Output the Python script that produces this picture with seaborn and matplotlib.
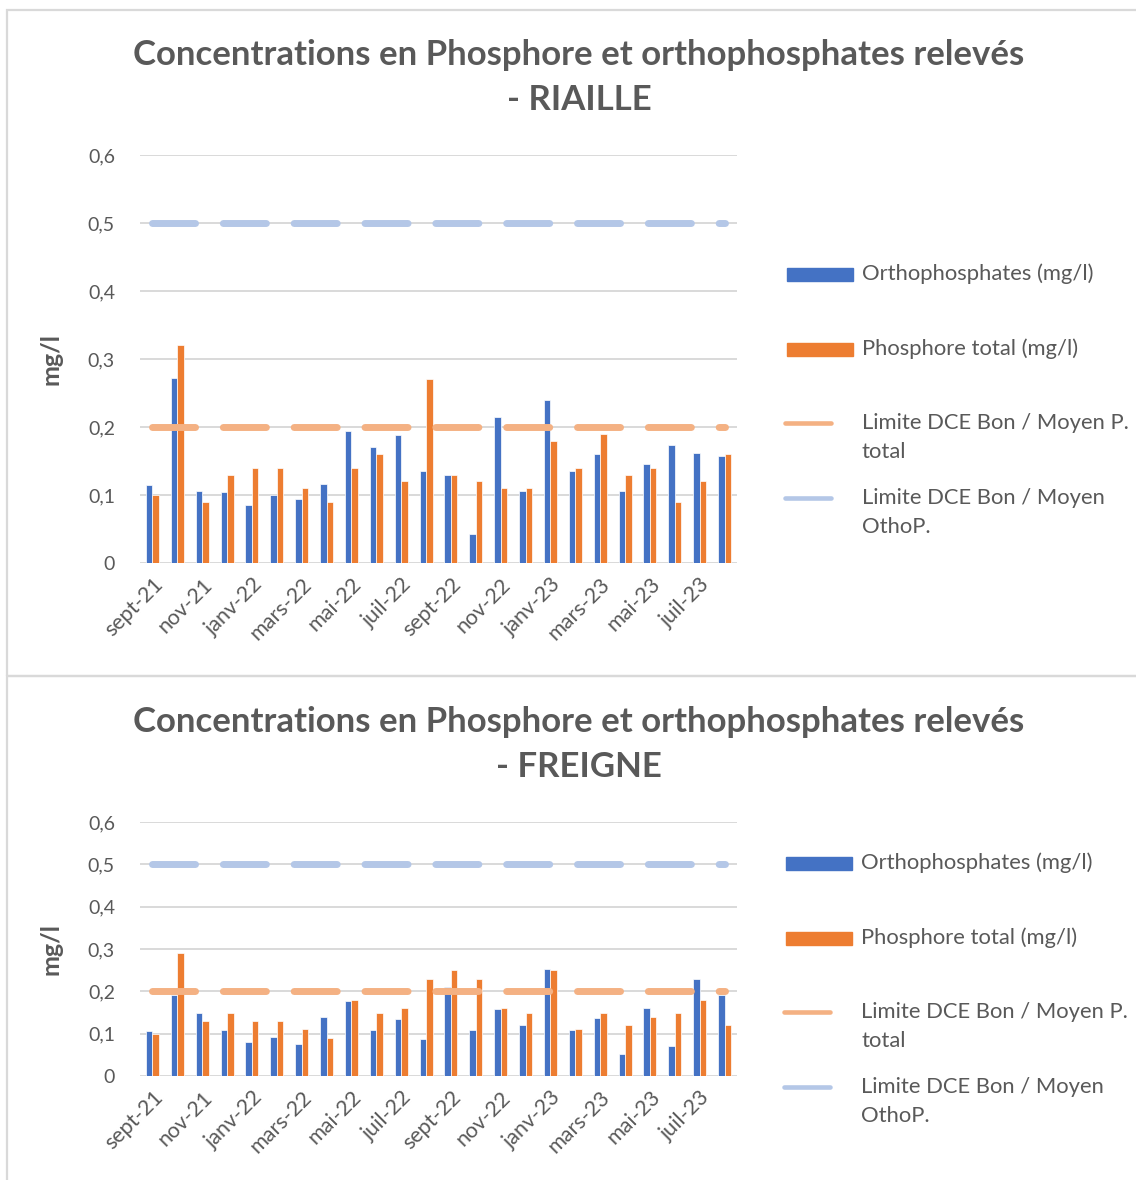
import numpy as np
import pandas as pd
import matplotlib
matplotlib.use("Agg")
import matplotlib.pyplot as plt
import seaborn as sns
from matplotlib.patches import Rectangle
from matplotlib.lines import Line2D

# Données (mg/l)
mois = ['sept-21', 'oct-21', 'nov-21', 'déc-21', 'janv-22', 'févr-22', 'mars-22', 'avr-22',
        'mai-22', 'juin-22', 'juil-22', 'août-22', 'sept-22', 'oct-22', 'nov-22', 'déc-22',
        'janv-23', 'févr-23', 'mars-23', 'avr-23', 'mai-23', 'juin-23', 'juil-23', 'août-23']

riaille_ortho = [0.115, 0.272, 0.106, 0.105, 0.086, 0.100, 0.094, 0.116, 0.194, 0.171, 0.188, 0.135,
                 0.129, 0.042, 0.215, 0.106, 0.240, 0.135, 0.160, 0.106, 0.146, 0.173, 0.162, 0.158]
riaille_ptot = [0.10, 0.32, 0.09, 0.13, 0.14, 0.14, 0.11, 0.09, 0.14, 0.16, 0.12, 0.27,
                0.13, 0.12, 0.11, 0.11, 0.18, 0.14, 0.19, 0.13, 0.14, 0.09, 0.12, 0.16]

freigne_ortho = [0.106, 0.192, 0.148, 0.109, 0.081, 0.091, 0.075, 0.139, 0.176, 0.109, 0.134, 0.087,
                 0.210, 0.109, 0.158, 0.120, 0.252, 0.109, 0.137, 0.051, 0.160, 0.072, 0.228, 0.192]
freigne_ptot = [0.10, 0.29, 0.13, 0.15, 0.13, 0.13, 0.11, 0.09, 0.18, 0.15, 0.16, 0.23,
                0.25, 0.23, 0.16, 0.15, 0.25, 0.11, 0.15, 0.12, 0.14, 0.15, 0.18, 0.12]

limite_ptot = 0.2
limite_ortho = 0.5

series = ['Orthophosphates (mg/l)', 'Phosphore total (mg/l)']
lab_lim_pt = 'Limite DCE Bon / Moyen P.\ntotal'
lab_lim_or = 'Limite DCE Bon / Moyen\nOthoP.'

BLEU = '#4472C4'
ORANGE = '#ED7D31'
ORANGE_CLAIR = '#F4B183'
BLEU_CLAIR = '#B4C7E7'
GRIS_TXT = '#595959'
GRIS_GRILLE = '#D9D9D9'

sns.set_theme(style="white")
plt.rcParams['font.family'] = ['Lato', 'DejaVu Sans']

W, H = 1136, 1180
fig = plt.figure(figsize=(W / 100, H / 100), dpi=100)


def fx(px):
    return px / W


def fy(py):
    return 1 - py / H


def tableau(ortho, ptot):
    return pd.DataFrame({
        'mois': mois * 2,
        'serie': [series[0]] * len(mois) + [series[1]] * len(mois),
        'valeur': list(ortho) + list(ptot),
    })


def panneau(y_haut, y_bas, ortho, ptot, station, y_titre, y_axes):
    # cadre du graphique
    fig.patches.append(Rectangle((fx(7), fy(y_bas)), fx(1200), fy(y_haut) - fy(y_bas),
                                 transform=fig.transFigure, fill=False,
                                 edgecolor=GRIS_GRILLE, lw=1.6))
    fig.text(fx(579), fy(y_titre), 'Concentrations en Phosphore et orthophosphates relevés',
             ha='center', va='center', fontsize=25, fontweight='bold', color=GRIS_TXT)
    fig.text(fx(579), fy(y_titre + 45), '- ' + station,
             ha='center', va='center', fontsize=25, fontweight='bold', color=GRIS_TXT)

    ax_top, ax_bot = y_axes
    ax = fig.add_axes([fx(140), fy(ax_bot), fx(737) - fx(140), fy(ax_top) - fy(ax_bot)])
    df = tableau(ortho, ptot)
    sns.barplot(data=df, x='mois', y='valeur', hue='serie', order=mois, hue_order=series,
                palette={series[0]: BLEU, series[1]: ORANGE}, width=0.52, saturation=1,
                edgecolor='white', linewidth=0.5, legend=False, ax=ax)
    # limites DCE en tirets épais
    x = np.arange(len(mois))
    ax.plot(x, np.full(len(mois), limite_ptot), color=ORANGE_CLAIR, lw=5,
            linestyle=(0, (6.2, 4.0)), dash_capstyle='round', zorder=5)
    ax.plot(x, np.full(len(mois), limite_ortho), color=BLEU_CLAIR, lw=5,
            linestyle=(0, (6.2, 4.0)), dash_capstyle='round', zorder=5)

    ax.set_xlim(-0.5, len(mois) - 0.5)
    ax.set_ylim(0, 0.6)
    ax.set_yticks(np.arange(0, 0.61, 0.1))
    ax.set_yticklabels(['0'] + [f'0,{i}' for i in range(1, 7)])
    ax.set_xticks(x[::2])
    ax.set_xticklabels(mois[::2], rotation=45, ha='right', rotation_mode='anchor')
    ax.tick_params(axis='both', length=0, labelcolor=GRIS_TXT)
    ax.tick_params(axis='y', pad=18, labelsize=14)
    ax.tick_params(axis='x', pad=8, labelsize=15.5)
    ax.grid(axis='y', color=GRIS_GRILLE, lw=1.4)
    ax.set_axisbelow(True)
    for s in ax.spines.values():
        s.set_visible(False)
    ax.set_xlabel('')
    ax.set_ylabel('mg/l', fontsize=18, fontweight='bold', color=GRIS_TXT)
    ax.yaxis.set_label_coords((62 - 140) / (737 - 140), 0.5)
    return ax


def legende(y_lignes, x_texte):
    fs = 15.8
    # barres
    for y, col, lab in zip(y_lignes[:2], [BLEU, ORANGE], series):
        fig.patches.append(Rectangle((fx(x_texte - 75), fy(y + 6.5)), fx(66), fy(0) - fy(13),
                                     transform=fig.transFigure, color=col))
        fig.text(fx(x_texte), fy(y), lab, ha='left', va='center', fontsize=fs, color=GRIS_TXT)
    # lignes de limite
    for y, col, lab in zip(y_lignes[2:], [ORANGE_CLAIR, BLEU_CLAIR], [lab_lim_pt, lab_lim_or]):
        fig.lines.append(Line2D([fx(x_texte - 77), fx(x_texte - 31)], [fy(y), fy(y)],
                                transform=fig.transFigure, color=col, lw=3.3,
                                solid_capstyle='round'))
        l1, l2 = lab.split('\n')
        fig.text(fx(x_texte), fy(y), l1, ha='left', va='center', fontsize=fs, color=GRIS_TXT)
        fig.text(fx(x_texte), fy(y + 29), l2, ha='left', va='center', fontsize=fs, color=GRIS_TXT)


panneau(10, 676, riaille_ortho, riaille_ptot, 'RIAILLE', 55, (155, 563))
legende([274, 349, 423, 498], 862)
panneau(676, 1250, freigne_ortho, freigne_ptot, 'FREIGNE', 722, (822, 1076))
legende([863, 938, 1012, 1087], 861)

fig.savefig('out.png', dpi=100, facecolor='white')
